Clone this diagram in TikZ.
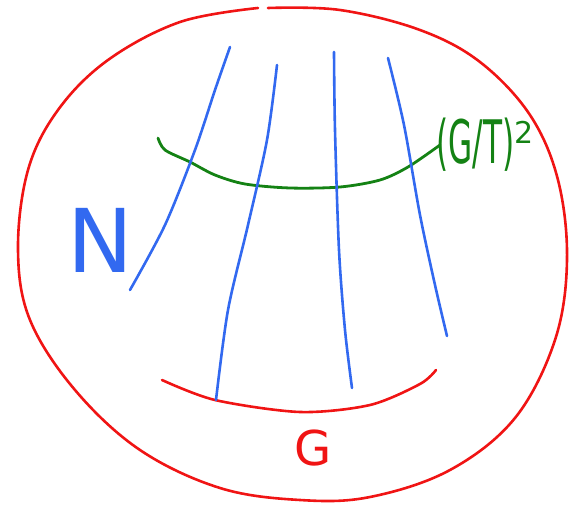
\documentclass[tikz,border=0pt]{standalone}
\usepackage{graphicx}
\usepackage{fontspec}
\setmainfont{DejaVu Sans}
\definecolor{penred}{RGB}{240,20,20}
\definecolor{penblue}{RGB}{50,105,240}
\definecolor{pengreen}{RGB}{20,130,20}
\begin{document}
\begin{tikzpicture}[x=1pt,y=-1pt,
  redpen/.style={draw=penred,line width=2.6pt,line cap=round,line join=round},
  bluepen/.style={draw=penblue,line width=2.6pt,line cap=round,line join=round},
  greenpen/.style={draw=pengreen,line width=2.8pt,line cap=round,line join=round}]
\useasboundingbox (0,0) rectangle (576,514);
% outer red circle
\draw[redpen] plot[smooth, tension=0.6] coordinates {(268,8) (340,10) (420,30) (480,62) (530,115) (558,180) (567,260) (555,340) (515,418) (450,470) (370,497) (300,500) (220,488) (140,450) (75,390) (30,320) (18,250) (28,170) (58,110) (108,60) (180,22) (258,8)};
% inner red arc
\draw[redpen] plot[smooth] coordinates {(162,380) (215,400) (300,412) (370,405) (420,384) (436,370)};
% green curve
\draw[greenpen] plot[smooth] coordinates {(158,138) (165,150) (190,162) (215,175) (245,184) (290,188) (340,187) (380,180) (408,167) (440,145)};
% blue lines
\draw[bluepen] plot[smooth] coordinates {(230,47) (215,90) (195,150) (165,225) (130,290)};
\draw[bluepen] plot[smooth] coordinates {(277,65) (267,140) (248,225) (228,310) (216,400)};
\draw[bluepen] plot[smooth] coordinates {(334,52) (335,130) (339,250) (345,330) (352,388)};
\draw[bluepen] plot[smooth] coordinates {(388,58) (404,125) (420,215) (435,285) (447,336)};
% labels
\node[text=penblue, font=\fontsize{88}{88}\selectfont, inner sep=0pt] (n) at (100,240) {N};
\node[text=pengreen, inner sep=0pt, anchor=west] (gt) at (436,145)
  {\scalebox{0.52}[1]{\fontsize{60}{60}\selectfont (G/T)}\raisebox{20pt}{\fontsize{30}{30}\selectfont 2}};
\node[text=penred, font=\fontsize{48}{48}\selectfont, inner sep=0pt] (g) at (313,448) {G};
\end{tikzpicture}
\end{document}
